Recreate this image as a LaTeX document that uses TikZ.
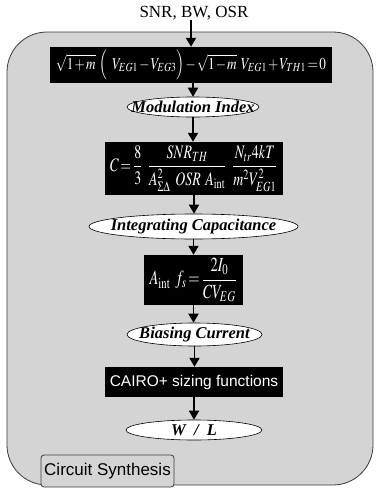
\documentclass[tikz,border=0pt]{standalone}
\usepackage{amsmath}
\usepackage{mathptmx}
\usepackage{fontspec}
\setmainfont{Liberation Serif}
\setsansfont{Liberation Sans}
\usepackage{graphicx}
\usetikzlibrary{shapes.geometric,arrows.meta}
\definecolor{panelgray}{RGB}{212,212,212}
\definecolor{panelline}{RGB}{60,60,60}
\newcommand{\tightmath}{\medmuskip=1.5mu\thickmuskip=2mu\thinmuskip=1.5mu}
\newcommand{\gap}{\mkern6mu}
\tikzset{
  panel/.style={draw=panelline,fill=panelgray,line width=0.8pt,rounded corners=40pt},
  blk/.style={fill=black,text=white,inner sep=0pt,rectangle},
  ell/.style={ellipse,draw=black,fill=white,line width=0.6pt,inner sep=0pt},
  elltext/.style={inner sep=0pt,font=\fontsize{16.5}{18}\selectfont\bfseries\itshape},
  arr/.style={line width=1.8pt,-{Triangle[length=9pt,width=10pt]}},
}
\begin{document}
\begin{tikzpicture}[x=1pt,y=-1pt]
\useasboundingbox (0,0) rectangle (376,490);
% outer panel
\draw[panel] (7,32) rectangle (373,485);
% title
\node[inner sep=0pt,font=\fontsize{17}{19}\selectfont] (snr) at (194,13) {SNR, BW, OSR};
% formula 1
\node[blk,minimum width=282pt,minimum height=36pt] (f1) at (191,65)
  {\resizebox*{270pt}{30pt}{\tightmath$\sqrt{1+m}\gap\Bigl(\gap V_{EG1}-V_{EG3}\Bigr)-\sqrt{1-m}\gap V_{EG1}+V_{TH1}=0$}};
% modulation index
\node[ell,minimum width=132pt,minimum height=20pt] (mod) at (193,107) {};
\node[elltext] (modt) at (mod.center) {Modulation Index};
% formula 2
\node[blk,minimum width=178pt,minimum height=53pt] (f2) at (194,168.5)
  {\resizebox*{168pt}{46pt}{\tightmath$\displaystyle C=\frac{8}{3}\gap\frac{SNR_{TH}}{A_{\Sigma\Delta}^{2}\gap OSR\gap A_{\mathrm{int}}}\gap\frac{N_{tr}4kT}{m^{2}V_{EG1}^{2}}$}};
% integrating capacitance
\node[ell,minimum width=209pt,minimum height=25pt] (integ) at (193.5,226.5) {};
\node[elltext] (integt) at (integ.center) {Integrating Capacitance};
% formula 3
\node[blk,minimum width=99pt,minimum height=50pt] (f3) at (193.5,280)
  {\resizebox*{88pt}{44pt}{\tightmath$\displaystyle A_{\mathrm{int}}\gap f_{s}=\frac{2I_{0}}{CV_{EG}}$}};
% biasing current
\node[ell,minimum width=135pt,minimum height=23pt] (bias) at (194.5,334.5) {};
\node[elltext] (biast) at (bias.center) {Biasing Current};
% cairo
\node[blk,minimum width=178pt,minimum height=30pt,font=\sffamily\fontsize{15.5}{17}\selectfont] (cairo) at (194,382) {CAIRO+ sizing functions};
% W/L
\node[ell,minimum width=136pt,minimum height=20pt] (wl) at (194,430) {};
\node[elltext] (wlt) at (wl.center) {W\hspace{0.5em}/\hspace{0.5em}L};
% circuit synthesis
\node[draw=panelline,fill=panelgray,line width=0.8pt,rounded corners=3pt,minimum width=133pt,minimum height=32pt,inner sep=0pt,font=\sffamily\fontsize{17}{19}\selectfont] (cs) at (107.5,471) {Circuit Synthesis};
% arrows
\draw[arr] (snr.south -| f1.north) -- (f1.north);
\draw[arr] (mod.north |- f1.south) -- (mod.north);
\draw[arr] (mod.south) -- (mod.south |- f2.north);
\draw[arr] (f2.south) -- (f2.south |- integ.north);
\draw[arr] (integ.south) -- (integ.south |- f3.north);
\draw[arr] (f3.south) -- (f3.south |- bias.north);
\draw[arr] (bias.south) -- (bias.south |- cairo.north);
\draw[arr] (cairo.south) -- (cairo.south |- wl.north);
\end{tikzpicture}
\end{document}
